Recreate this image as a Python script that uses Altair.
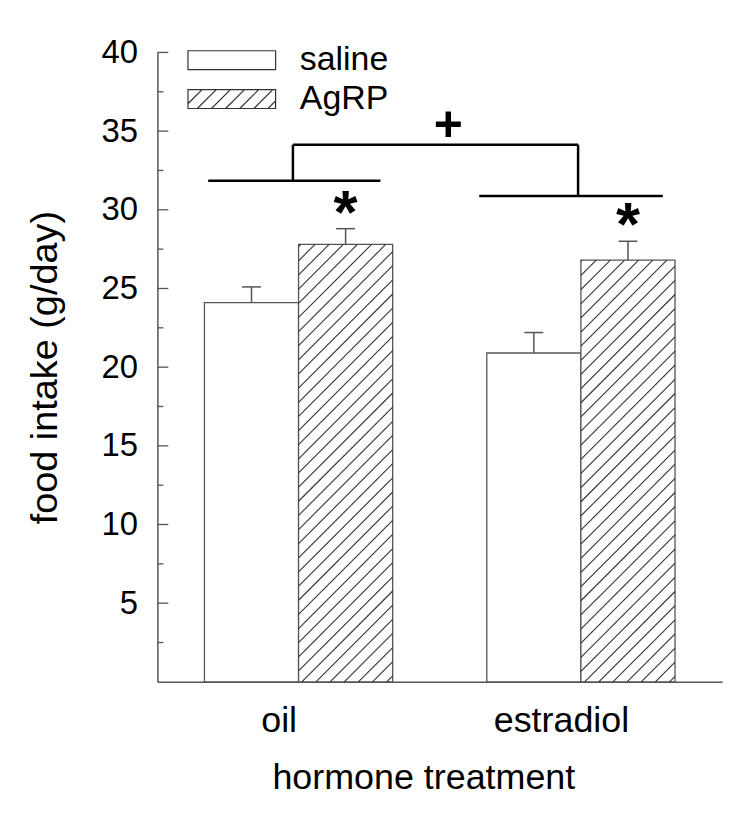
import altair as alt
import pandas as pd
import numpy as np

# ---- data ----
treatments = ["oil", "estradiol"]
series = ["saline", "AgRP"]
mean_saline = [24.1, 20.9]
mean_agrp = [27.8, 26.8]
sem_saline = [1.0, 1.3]
sem_agrp = [1.0, 1.2]

# significance annotation (bracket levels / extents, in data units)
grp_level = [31.85, 30.87]
grp_from = [0.68, 1.64]
grp_to = [1.29, 2.29]
grp_stem = [0.98, 1.99]
top_level = 34.14
plus_x = [1.53]

major_ticks = [5, 10, 15, 20, 25, 30, 35, 40]
minor_ticks = [2.5, 7.5, 12.5, 17.5, 22.5, 27.5, 32.5, 37.5]

# ---- layout constants ----
W, H = 567, 632
XDOM = [0.5, 2.5]
YDOM = [0, 40]
BAR_W = 1 / 3
FONT = "Liberation Sans"

means = {"saline": mean_saline, "AgRP": mean_agrp}
sems = {"saline": sem_saline, "AgRP": sem_agrp}
rows = []
for gi, t in enumerate(treatments):
    c = gi + 1
    for si, s in enumerate(series):
        x0 = c - BAR_W + si * BAR_W
        rows.append(dict(treatment=t, series=s, x0=x0, x1=x0 + BAR_W,
                         xc=x0 + BAR_W / 2, mean=means[s][gi], sem=sems[s][gi]))
bars = pd.DataFrame(rows)
bars["top"] = bars["mean"] + bars["sem"]
bars["base"] = 0.0

# hatch segments for AgRP bars (45 degree lines clipped to each bar)
kx = W / (XDOM[1] - XDOM[0])
ky = H / (YDOM[1] - YDOM[0])
spacing = 14.2
segs = []
for _, r in bars[bars.series == "AgRP"].iterrows():
    a = (r.x0 - XDOM[0]) * kx
    b = (r.x1 - XDOM[0]) * kx
    h = r["mean"] * ky
    k0 = int(np.floor((a - h) / spacing))
    k1 = int(np.ceil(b / spacing))
    for k in range(k0, k1 + 1):
        c = k * spacing + 3
        u0 = max(0.0, a - c)
        u1 = min(h, b - c)
        if u1 - u0 > 0.8:
            segs.append(dict(x=XDOM[0] + (c + u0) / kx, y=u0 / ky,
                             x2=XDOM[0] + (c + u1) / kx, y2=u1 / ky))
hatch = pd.DataFrame(segs)

# bracket lines
br = []
for i in range(2):
    br.append(dict(x=grp_from[i], x2=grp_to[i], y=grp_level[i], y2=grp_level[i]))
    br.append(dict(x=grp_stem[i], x2=grp_stem[i], y=grp_level[i], y2=top_level))
br.append(dict(x=grp_stem[0], x2=grp_stem[1], y=top_level, y2=top_level))
brackets = pd.DataFrame(br)

ticks = pd.DataFrame({"v": major_ticks + minor_ticks,
                      "kind": ["major"] * len(major_ticks) + ["minor"] * len(minor_ticks)})

# legend symbol paths (custom symbol, scaled by r = sqrt(size)/2)
SYM = 34.0            # sqrt(symbol size) -> legend row height
R = SYM / 2
hw = 44 / R           # half width of 88 px box
hh = 9.5 / R          # half height of 19 px box
rect_path = f"M{-hw:.4f},{-hh:.4f}H{hw:.4f}V{hh:.4f}H{-hw:.4f}Z"
sp = 14.2 / R
hatch_parts = [rect_path]
t = -hw - 2 * hh
while t < hw:
    xa, ya = t, hh
    xb, yb = t + 2 * hh, -hh
    if xa < -hw:
        ya = hh - (-hw - xa); xa = -hw
    if xb > hw:
        yb = -hh + (xb - hw); xb = hw
    if xb - xa > 0.02:
        hatch_parts.append(f"M{xa:.4f},{ya:.4f}L{xb:.4f},{yb:.4f}")
    t += sp
hatch_path = "".join(hatch_parts)

xs = alt.Scale(domain=XDOM, nice=False, zero=False)
ys = alt.Scale(domain=YDOM, nice=False, zero=True)

x_axis = alt.Axis(values=[1, 2], labelExpr="datum.value == 1 ? 'oil' : 'estradiol'",
                  ticks=False, tickSize=0, grid=False, labelFontSize=36, labelPadding=22,
                  labelOffset=-20, labelColor="black", domainColor="#555", domainWidth=1.5,
                  title="hormone treatment", titleFontSize=36, titleFontWeight="normal",
                  titleColor="black", titleX=267, titleY=107, titleBaseline="alphabetic",
                  titleAnchor="middle", labelFont=FONT, titleFont=FONT)
y_axis = alt.Axis(values=major_ticks, ticks=False, tickSize=0, grid=False,
                  labelFontSize=33, labelPadding=20, labelColor="black",
                  domainColor="#555", domainWidth=1.5,
                  title="food intake (g/day)", titleFontSize=38, titleFontWeight="normal",
                  titleColor="black", titleX=-101, titleY=316, titleBaseline="alphabetic",
                  titleAngle=270, labelFont=FONT, titleFont=FONT)


def X(field):
    return alt.X(field, scale=xs, axis=x_axis)


def Y(field):
    return alt.Y(field, scale=ys, axis=y_axis)


base = alt.Chart(bars)

bar_layer = base.mark_rect(fill="white", stroke="#555", strokeWidth=1.3).encode(
    x=X("x0:Q"), x2="x1:Q", y=Y("mean:Q"), y2="base:Q",
)

hatch_layer = alt.Chart(hatch).mark_rule(color="#333", strokeWidth=1.1).encode(
    x=X("x:Q"), x2="x2:Q", y=Y("y:Q"), y2="y2:Q",
)

err_layer = base.mark_rule(color="#555", strokeWidth=1.5).encode(
    x=X("xc:Q"), y=Y("mean:Q"), y2="top:Q",
)
cap_layer = base.mark_tick(orient="horizontal", size=19, thickness=1.5, color="#555", opacity=1).encode(
    x=X("xc:Q"), y=Y("top:Q"),
)

major_layer = alt.Chart(ticks).transform_filter("datum.kind == 'major'").mark_rule(
    color="#555", strokeWidth=1.3).encode(
    y=Y("v:Q"), x=alt.value(0), x2=alt.value(11))
minor_layer = alt.Chart(ticks).transform_filter("datum.kind == 'minor'").mark_rule(
    color="#555", strokeWidth=1.3).encode(
    y=Y("v:Q"), x=alt.value(0), x2=alt.value(6))

bracket_layer = alt.Chart(brackets).mark_rule(color="black", strokeWidth=2.5).encode(
    x=X("x:Q"), x2="x2:Q", y=Y("y:Q"), y2="y2:Q",
)

star_layer = base.transform_filter("datum.series == 'AgRP'").mark_text(
    text="*", font=FONT, fontSize=62, fontWeight="bold", color="black",
    baseline="alphabetic", align="center", dy=4).encode(
    x=X("xc:Q"), y=Y("top:Q"),
)

plus_layer = alt.Chart(pd.DataFrame({"x": plus_x, "y": [top_level]})).mark_text(
    text="+", font=FONT, fontSize=50, fontWeight="bold", color="black",
    baseline="alphabetic", align="center", dy=-4).encode(
    x=X("x:Q"), y=Y("y:Q"),
)

legend_layer = base.mark_point(size=0, filled=False, color="#333", opacity=1, strokeWidth=1.2).encode(
    x=X("xc:Q"), y=Y("base:Q"),
    shape=alt.Shape("series:N",
                    scale=alt.Scale(domain=series, range=[rect_path, hatch_path]),
                    legend=alt.Legend(title=None, orient="none", legendX=56.7, legendY=-10.2,
                                      symbolSize=SYM * SYM, symbolStrokeWidth=1.2,
                                      symbolStrokeColor="#333", symbolFillColor="white",
                                      symbolOpacity=1, labelFontSize=34, labelFont=FONT,
                                      labelColor="black", labelOffset=50.3, rowPadding=4,
                                      padding=0)),
)

chart = alt.layer(
    bar_layer, hatch_layer, err_layer, cap_layer, major_layer, minor_layer,
    bracket_layer, star_layer, plus_layer, legend_layer,
).properties(
    width=W, height=H,
    autosize=alt.AutoSizeParams(type="none"),
    padding={"left": 150, "top": 43, "right": 20, "bottom": 120},
).configure(font=FONT).configure_view(stroke=None)

chart.save("out.html", embed_options={"renderer": "svg", "actions": False})
